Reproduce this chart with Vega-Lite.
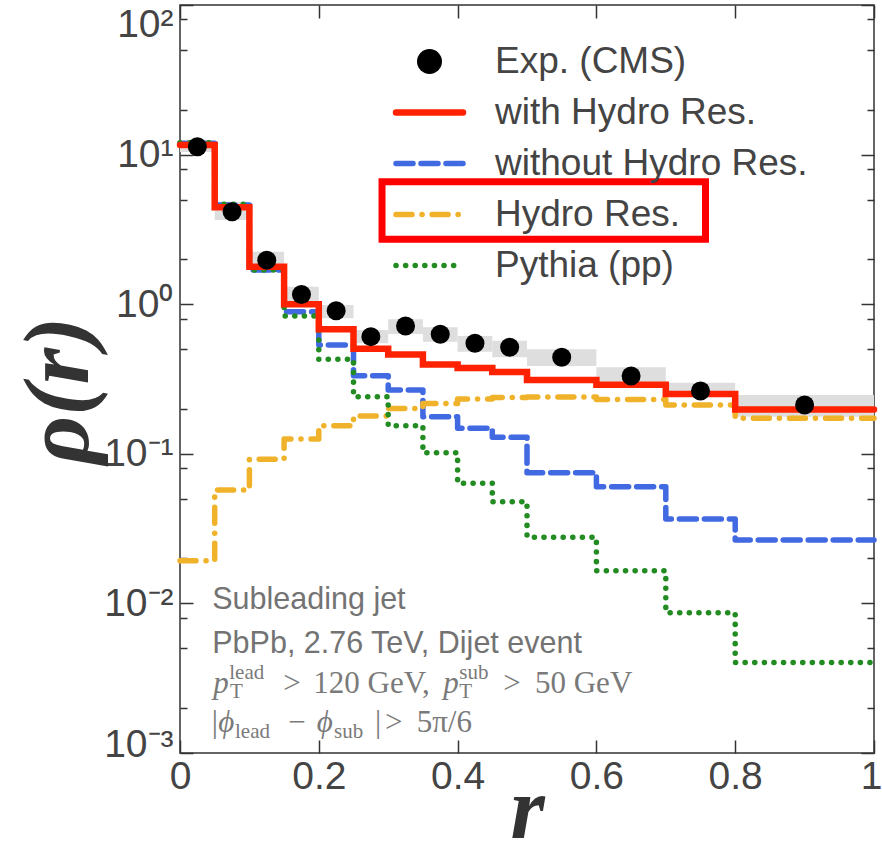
{
  "$schema": "https://vega.github.io/schema/vega-lite/v6.json",
  "width": 694,
  "height": 748,
  "autosize": {"type": "none"},
  "padding": {"left": 180, "top": 5, "right": 8, "bottom": 97},
  "background": "white",
  "config": {
    "view": {"stroke": "#333333", "strokeWidth": 1.5},
    "axis": {"grid": false, "domain": false, "tickColor": "#333333", "tickWidth": 1.5, "labelFlush": false}
  },
  "datasets": {
    "cms": [
      {"series": "Exp. (CMS)", "r": 0.025, "rlo": 0.0, "rhi": 0.05, "rho": 11.3, "lo": 10.4, "hi": 12.0},
      {"series": "Exp. (CMS)", "r": 0.075, "rlo": 0.05, "rhi": 0.1, "rho": 4.15, "lo": 3.65, "hi": 4.84},
      {"series": "Exp. (CMS)", "r": 0.125, "rlo": 0.1, "rhi": 0.15, "rho": 1.97, "lo": 1.78, "hi": 2.24},
      {"series": "Exp. (CMS)", "r": 0.175, "rlo": 0.15, "rhi": 0.2, "rho": 1.16, "lo": 1.02, "hi": 1.31},
      {"series": "Exp. (CMS)", "r": 0.225, "rlo": 0.2, "rhi": 0.25, "rho": 0.905, "lo": 0.805, "hi": 0.988},
      {"series": "Exp. (CMS)", "r": 0.275, "rlo": 0.25, "rhi": 0.3, "rho": 0.607, "lo": 0.548, "hi": 0.673},
      {"series": "Exp. (CMS)", "r": 0.325, "rlo": 0.3, "rhi": 0.35, "rho": 0.715, "lo": 0.632, "hi": 0.793},
      {"series": "Exp. (CMS)", "r": 0.375, "rlo": 0.35, "rhi": 0.4, "rho": 0.63, "lo": 0.561, "hi": 0.701},
      {"series": "Exp. (CMS)", "r": 0.425, "rlo": 0.4, "rhi": 0.45, "rho": 0.548, "lo": 0.481, "hi": 0.613},
      {"series": "Exp. (CMS)", "r": 0.475, "rlo": 0.45, "rhi": 0.5, "rho": 0.515, "lo": 0.442, "hi": 0.57},
      {"series": "Exp. (CMS)", "r": 0.55, "rlo": 0.5, "rhi": 0.6, "rho": 0.442, "lo": 0.386, "hi": 0.5},
      {"series": "Exp. (CMS)", "r": 0.65, "rlo": 0.6, "rhi": 0.7, "rho": 0.331, "lo": 0.299, "hi": 0.379},
      {"series": "Exp. (CMS)", "r": 0.75, "rlo": 0.7, "rhi": 0.8, "rho": 0.263, "lo": 0.241, "hi": 0.299},
      {"series": "Exp. (CMS)", "r": 0.9, "rlo": 0.8, "rhi": 1.0, "rho": 0.212, "lo": 0.177, "hi": 0.247}
    ],
    "curves": [
      {"series": "with Hydro Res.", "r": 0, "rho": 11.6},
      {"series": "with Hydro Res.", "r": 0.05, "rho": 4.44},
      {"series": "with Hydro Res.", "r": 0.1, "rho": 1.78},
      {"series": "with Hydro Res.", "r": 0.15, "rho": 1.0},
      {"series": "with Hydro Res.", "r": 0.2, "rho": 0.68},
      {"series": "with Hydro Res.", "r": 0.25, "rho": 0.504},
      {"series": "with Hydro Res.", "r": 0.3, "rho": 0.461},
      {"series": "with Hydro Res.", "r": 0.35, "rho": 0.395},
      {"series": "with Hydro Res.", "r": 0.4, "rho": 0.375},
      {"series": "with Hydro Res.", "r": 0.45, "rho": 0.352},
      {"series": "with Hydro Res.", "r": 0.5, "rho": 0.311},
      {"series": "with Hydro Res.", "r": 0.6, "rho": 0.29},
      {"series": "with Hydro Res.", "r": 0.7, "rho": 0.251},
      {"series": "with Hydro Res.", "r": 0.8, "rho": 0.198},
      {"series": "with Hydro Res.", "r": 1.0, "rho": 0.198},
      {"series": "without Hydro Res.", "r": 0, "rho": 11.9},
      {"series": "without Hydro Res.", "r": 0.05, "rho": 4.6},
      {"series": "without Hydro Res.", "r": 0.1, "rho": 1.69},
      {"series": "without Hydro Res.", "r": 0.15, "rho": 0.89},
      {"series": "without Hydro Res.", "r": 0.2, "rho": 0.534},
      {"series": "without Hydro Res.", "r": 0.25, "rho": 0.333},
      {"series": "without Hydro Res.", "r": 0.3, "rho": 0.267},
      {"series": "without Hydro Res.", "r": 0.35, "rho": 0.177},
      {"series": "without Hydro Res.", "r": 0.4, "rho": 0.148},
      {"series": "without Hydro Res.", "r": 0.45, "rho": 0.129},
      {"series": "without Hydro Res.", "r": 0.5, "rho": 0.0748},
      {"series": "without Hydro Res.", "r": 0.6, "rho": 0.0603},
      {"series": "without Hydro Res.", "r": 0.7, "rho": 0.0367},
      {"series": "without Hydro Res.", "r": 0.8, "rho": 0.0265},
      {"series": "without Hydro Res.", "r": 1.0, "rho": 0.0265},
      {"series": "Hydro Res.", "r": 0, "rho": 0.0193},
      {"series": "Hydro Res.", "r": 0.05, "rho": 0.0573},
      {"series": "Hydro Res.", "r": 0.1, "rho": 0.0918},
      {"series": "Hydro Res.", "r": 0.15, "rho": 0.1256},
      {"series": "Hydro Res.", "r": 0.2, "rho": 0.154},
      {"series": "Hydro Res.", "r": 0.25, "rho": 0.179},
      {"series": "Hydro Res.", "r": 0.3, "rho": 0.201},
      {"series": "Hydro Res.", "r": 0.35, "rho": 0.217},
      {"series": "Hydro Res.", "r": 0.4, "rho": 0.2325},
      {"series": "Hydro Res.", "r": 0.45, "rho": 0.2375},
      {"series": "Hydro Res.", "r": 0.5, "rho": 0.2395},
      {"series": "Hydro Res.", "r": 0.6, "rho": 0.2305},
      {"series": "Hydro Res.", "r": 0.7, "rho": 0.212},
      {"series": "Hydro Res.", "r": 0.8, "rho": 0.173},
      {"series": "Hydro Res.", "r": 1.0, "rho": 0.173},
      {"series": "Pythia (pp)", "r": 0, "rho": 12.0},
      {"series": "Pythia (pp)", "r": 0.05, "rho": 4.65},
      {"series": "Pythia (pp)", "r": 0.1, "rho": 1.69},
      {"series": "Pythia (pp)", "r": 0.15, "rho": 0.834},
      {"series": "Pythia (pp)", "r": 0.2, "rho": 0.428},
      {"series": "Pythia (pp)", "r": 0.25, "rho": 0.241},
      {"series": "Pythia (pp)", "r": 0.3, "rho": 0.154},
      {"series": "Pythia (pp)", "r": 0.35, "rho": 0.1017},
      {"series": "Pythia (pp)", "r": 0.4, "rho": 0.0635},
      {"series": "Pythia (pp)", "r": 0.45, "rho": 0.0478},
      {"series": "Pythia (pp)", "r": 0.5, "rho": 0.0277},
      {"series": "Pythia (pp)", "r": 0.6, "rho": 0.0165},
      {"series": "Pythia (pp)", "r": 0.7, "rho": 0.00867},
      {"series": "Pythia (pp)", "r": 0.8, "rho": 0.00403},
      {"series": "Pythia (pp)", "r": 1.0, "rho": 0.00403}
    ]
  },
  "resolve": {"axis": {"x": "independent", "y": "independent"}},
  "layer": [
    {
      "data": {"name": "cms"},
      "mark": {"type": "rect", "fill": "#dedede"},
      "encoding": {
        "x": {"field": "rlo", "type": "quantitative",
          "scale": {"domain": [0, 1], "nice": false, "zero": false},
          "axis": {"orient": "bottom", "values": [0, 0.2, 0.4, 0.6, 0.8, 1], "ticks": false, "labelFlush": false,
            "labelExpr": "datum.value == 0 ? '0' : datum.value == 1 ? '1' : format(datum.value, '.1f')",
            "labelOffset": {"expr": "datum.value == 1 ? -3 : 0"},
            "labelFont": "Liberation Sans", "labelFontSize": 39, "labelColor": "#444444", "labelPadding": 4,
            "title": "r", "titleFont": "Liberation Serif", "titleFontStyle": "italic", "titleFontWeight": "bold",
            "titleFontSize": 88, "titleColor": "#333333", "titleX": 347, "titleY": 84, "titleBaseline": "alphabetic", "titleAlign": "center"}},
        "x2": {"field": "rhi"},
        "y": {"field": "lo", "type": "quantitative",
          "scale": {"type": "log", "domain": [0.001, 100], "nice": false},
          "axis": {"orient": "left", "values": [0.001, 0.01, 0.1, 1, 10, 100], "ticks": false, "labelFlush": false,
            "labelExpr": "datum.value >= 50 ? '10²' : datum.value >= 5 ? '10¹' : datum.value >= 0.5 ? '10⁰' : datum.value >= 0.05 ? '10⁻¹' : datum.value >= 0.005 ? '10⁻²' : '10⁻³'",
            "labelFont": "Liberation Sans", "labelFontSize": 39, "labelColor": "#444444", "labelPadding": 7,
            "labelBaseline": {"expr": "datum.value >= 50 ? 'top' : 'middle'"},
            "labelOffset": {"expr": "datum.value < 0.005 ? -9 : 0"},
            "title": "ρ(r)", "titleFont": "Liberation Serif", "titleFontStyle": "italic", "titleFontWeight": "bold",
            "titleFontSize": 94, "titleColor": "#333333", "titleAngle": 270, "titleX": -121, "titleY": 385,
            "titleBaseline": "middle", "titleAlign": "center"}},
        "y2": {"field": "hi"}
      }
    },
    {
      "data": {"name": "curves"},
      "transform": [{"filter": "datum.series !== 'with Hydro Res.'"}],
      "mark": {"type": "line", "interpolate": "step-after", "strokeWidth": 5.5, "strokeCap": "round", "strokeJoin": "round"},
      "encoding": {
        "x": {"field": "r", "type": "quantitative",
          "axis": {"orient": "bottom", "values": [0, 0.2, 0.4, 0.6, 0.8, 1], "labels": false, "tickSize": -13, "title": null}},
        "y": {"field": "rho", "type": "quantitative",
          "axis": {"orient": "left", "values": [0.001, 0.01, 0.1, 1, 10, 100], "labels": false, "tickSize": -13, "title": null}},
        "color": {"field": "series", "type": "nominal",
          "scale": {"domain": ["Exp. (CMS)", "with Hydro Res.", "without Hydro Res.", "Hydro Res.", "Pythia (pp)"],
                    "range": ["#000000", "#ff2200", "#4169e1", "#f0b22a", "#228b22"]},
          "legend": {"orient": "none", "legendX": 231, "legendY": 38, "title": null,
            "labelFont": "Liberation Sans", "labelFontSize": 37, "labelColor": "#444444", "labelOffset": 47, "labelLimit": 500,
            "symbolType": "stroke", "symbolSize": 4489, "symbolStrokeWidth": 5.5, "rowPadding": 13, "padding": 0,
            "encode": {"symbols": {"update": {
              "shape": {"signal": "datum.value === 'Exp. (CMS)' ? 'circle' : 'stroke'"},
              "size": {"signal": "datum.value === 'Exp. (CMS)' ? 625 : 4489"},
              "fill": {"signal": "datum.value === 'Exp. (CMS)' ? '#000000' : 'transparent'"},
              "strokeWidth": {"signal": "datum.value === 'Exp. (CMS)' ? 0 : datum.value === 'with Hydro Res.' ? 6.5 : 5.5"},
              "strokeCap": {"value": "round"}
            }}}}},
        "strokeDash": {"field": "series", "type": "nominal",
          "scale": {"domain": ["Exp. (CMS)", "with Hydro Res.", "without Hydro Res.", "Hydro Res.", "Pythia (pp)"],
                    "range": [[1, 0], [1, 0], [17, 8], [16, 10, 0.1, 10], [0.1, 9.5]]}}
      }
    },
    {
      "data": {"name": "curves"},
      "transform": [{"filter": "datum.series === 'with Hydro Res.'"}],
      "mark": {"type": "line", "interpolate": "step-after", "strokeWidth": 6.5, "strokeCap": "round", "strokeJoin": "miter"},
      "encoding": {
        "x": {"field": "r", "type": "quantitative",
          "axis": {"orient": "top", "values": [0, 0.2, 0.4, 0.6, 0.8, 1], "labels": false, "tickSize": -13, "title": null}},
        "y": {"field": "rho", "type": "quantitative",
          "axis": {"orient": "right", "values": [0.001, 0.01, 0.1, 1, 10, 100], "labels": false, "tickSize": -13, "title": null}},
        "color": {"field": "series", "type": "nominal"},
        "strokeDash": {"field": "series", "type": "nominal"}
      }
    },
    {
      "data": {"name": "cms"},
      "mark": {"type": "point", "filled": true, "size": 361, "opacity": 1},
      "encoding": {
        "x": {"field": "r", "type": "quantitative", "axis": null},
        "y": {"field": "rho", "type": "quantitative",
          "axis": {"orient": "left", "values": [0.002, 0.005, 0.008, 0.02, 0.05, 0.08, 0.2, 0.5, 0.8, 2, 5, 8, 20, 50, 80], "labels": false, "tickSize": -7, "title": null}},
        "color": {"field": "series", "type": "nominal"}
      }
    },
    {
      "data": {"values": [{"label": "highlight"}]},
      "mark": {"type": "rect", "filled": false, "stroke": "#ff0000", "strokeWidth": 7},
      "encoding": {
        "x": {"datum": 0.2911, "type": "quantitative", "axis": null},
        "x2": {"datum": 0.7572},
        "y": {"datum": 6.59, "type": "quantitative",
          "axis": {"orient": "right", "values": [0.002, 0.005, 0.008, 0.02, 0.05, 0.08, 0.2, 0.5, 0.8, 2, 5, 8, 20, 50, 80], "labels": false, "tickSize": -7, "title": null}},
        "y2": {"datum": 2.72}
      }
    },
    {
      "data": {"values": [{"label": "Subleading jet"}]},
      "mark": {"type": "text", "align": "left", "baseline": "alphabetic", "font": "Liberation Sans", "fontSize": 30.5, "color": "#737373"},
      "encoding": {"x": {"datum": 0.0465, "type": "quantitative", "axis": null}, "y": {"datum": 0.009133, "type": "quantitative", "axis": null}, "text": {"field": "label"}}
    },
    {
      "data": {"values": [{"label": "PbPb, 2.76 TeV, Dijet event"}]},
      "mark": {"type": "text", "align": "left", "baseline": "alphabetic", "font": "Liberation Sans", "fontSize": 30.5, "color": "#737373"},
      "encoding": {"x": {"datum": 0.0465, "type": "quantitative", "axis": null}, "y": {"datum": 0.004638, "type": "quantitative", "axis": null}, "text": {"field": "label"}}
    },
    {
      "data": {"values": [{"label": "p"}]},
      "mark": {"type": "text", "align": "left", "baseline": "alphabetic", "font": "Liberation Serif", "fontStyle": "italic", "fontSize": 31, "color": "#7a7a7a"},
      "encoding": {"x": {"datum": 0.048, "type": "quantitative", "axis": null}, "y": {"datum": 0.002506, "type": "quantitative", "axis": null}, "text": {"field": "label"}}
    },
    {
      "data": {"values": [{"label": "lead"}]},
      "mark": {"type": "text", "align": "left", "baseline": "alphabetic", "font": "Liberation Serif", "fontSize": 21, "color": "#7a7a7a"},
      "encoding": {"x": {"datum": 0.071, "type": "quantitative", "axis": null}, "y": {"datum": 0.003124, "type": "quantitative", "axis": null}, "text": {"field": "label"}}
    },
    {
      "data": {"values": [{"label": "T"}]},
      "mark": {"type": "text", "align": "left", "baseline": "alphabetic", "font": "Liberation Serif", "fontSize": 21, "color": "#7a7a7a"},
      "encoding": {"x": {"datum": 0.072, "type": "quantitative", "axis": null}, "y": {"datum": 0.00232, "type": "quantitative", "axis": null}, "text": {"field": "label"}}
    },
    {
      "data": {"values": [{"label": ">"}]},
      "mark": {"type": "text", "align": "left", "baseline": "alphabetic", "font": "Liberation Serif", "fontSize": 31, "color": "#7a7a7a"},
      "encoding": {"x": {"datum": 0.1488, "type": "quantitative", "axis": null}, "y": {"datum": 0.002506, "type": "quantitative", "axis": null}, "text": {"field": "label"}}
    },
    {
      "data": {"values": [{"label": "120 GeV,"}]},
      "mark": {"type": "text", "align": "left", "baseline": "alphabetic", "font": "Liberation Serif", "fontSize": 31, "color": "#7a7a7a"},
      "encoding": {"x": {"datum": 0.1921, "type": "quantitative", "axis": null}, "y": {"datum": 0.002506, "type": "quantitative", "axis": null}, "text": {"field": "label"}}
    },
    {
      "data": {"values": [{"label": "p"}]},
      "mark": {"type": "text", "align": "left", "baseline": "alphabetic", "font": "Liberation Serif", "fontStyle": "italic", "fontSize": 31, "color": "#7a7a7a"},
      "encoding": {"x": {"datum": 0.3794, "type": "quantitative", "axis": null}, "y": {"datum": 0.002506, "type": "quantitative", "axis": null}, "text": {"field": "label"}}
    },
    {
      "data": {"values": [{"label": "sub"}]},
      "mark": {"type": "text", "align": "left", "baseline": "alphabetic", "font": "Liberation Serif", "fontSize": 21, "color": "#7a7a7a"},
      "encoding": {"x": {"datum": 0.4024, "type": "quantitative", "axis": null}, "y": {"datum": 0.003124, "type": "quantitative", "axis": null}, "text": {"field": "label"}}
    },
    {
      "data": {"values": [{"label": "T"}]},
      "mark": {"type": "text", "align": "left", "baseline": "alphabetic", "font": "Liberation Serif", "fontSize": 21, "color": "#7a7a7a"},
      "encoding": {"x": {"datum": 0.4024, "type": "quantitative", "axis": null}, "y": {"datum": 0.00232, "type": "quantitative", "axis": null}, "text": {"field": "label"}}
    },
    {
      "data": {"values": [{"label": ">"}]},
      "mark": {"type": "text", "align": "left", "baseline": "alphabetic", "font": "Liberation Serif", "fontSize": 31, "color": "#7a7a7a"},
      "encoding": {"x": {"datum": 0.4659, "type": "quantitative", "axis": null}, "y": {"datum": 0.002506, "type": "quantitative", "axis": null}, "text": {"field": "label"}}
    },
    {
      "data": {"values": [{"label": "50 GeV"}]},
      "mark": {"type": "text", "align": "left", "baseline": "alphabetic", "font": "Liberation Serif", "fontSize": 31, "color": "#7a7a7a"},
      "encoding": {"x": {"datum": 0.5115, "type": "quantitative", "axis": null}, "y": {"datum": 0.002506, "type": "quantitative", "axis": null}, "text": {"field": "label"}}
    },
    {
      "data": {"values": [{"label": "|"}]},
      "mark": {"type": "text", "align": "left", "baseline": "alphabetic", "font": "Liberation Serif", "fontSize": 31, "color": "#7a7a7a"},
      "encoding": {"x": {"datum": 0.0457, "type": "quantitative", "axis": null}, "y": {"datum": 0.001388, "type": "quantitative", "axis": null}, "text": {"field": "label"}}
    },
    {
      "data": {"values": [{"label": "ϕ"}]},
      "mark": {"type": "text", "align": "left", "baseline": "alphabetic", "font": "Liberation Serif", "fontStyle": "italic", "fontSize": 31, "color": "#7a7a7a"},
      "encoding": {"x": {"datum": 0.0552, "type": "quantitative", "axis": null}, "y": {"datum": 0.001388, "type": "quantitative", "axis": null}, "text": {"field": "label"}}
    },
    {
      "data": {"values": [{"label": "lead"}]},
      "mark": {"type": "text", "align": "left", "baseline": "alphabetic", "font": "Liberation Serif", "fontSize": 21, "color": "#7a7a7a"},
      "encoding": {"x": {"datum": 0.0793, "type": "quantitative", "axis": null}, "y": {"datum": 0.001265, "type": "quantitative", "axis": null}, "text": {"field": "label"}}
    },
    {
      "data": {"values": [{"label": "−"}]},
      "mark": {"type": "text", "align": "left", "baseline": "alphabetic", "font": "Liberation Serif", "fontSize": 31, "color": "#7a7a7a"},
      "encoding": {"x": {"datum": 0.156, "type": "quantitative", "axis": null}, "y": {"datum": 0.001388, "type": "quantitative", "axis": null}, "text": {"field": "label"}}
    },
    {
      "data": {"values": [{"label": "ϕ"}]},
      "mark": {"type": "text", "align": "left", "baseline": "alphabetic", "font": "Liberation Serif", "fontStyle": "italic", "fontSize": 31, "color": "#7a7a7a"},
      "encoding": {"x": {"datum": 0.197, "type": "quantitative", "axis": null}, "y": {"datum": 0.001388, "type": "quantitative", "axis": null}, "text": {"field": "label"}}
    },
    {
      "data": {"values": [{"label": "sub"}]},
      "mark": {"type": "text", "align": "left", "baseline": "alphabetic", "font": "Liberation Serif", "fontSize": 21, "color": "#7a7a7a"},
      "encoding": {"x": {"datum": 0.2219, "type": "quantitative", "axis": null}, "y": {"datum": 0.001265, "type": "quantitative", "axis": null}, "text": {"field": "label"}}
    },
    {
      "data": {"values": [{"label": "|"}]},
      "mark": {"type": "text", "align": "left", "baseline": "alphabetic", "font": "Liberation Serif", "fontSize": 31, "color": "#7a7a7a"},
      "encoding": {"x": {"datum": 0.281, "type": "quantitative", "axis": null}, "y": {"datum": 0.001388, "type": "quantitative", "axis": null}, "text": {"field": "label"}}
    },
    {
      "data": {"values": [{"label": ">"}]},
      "mark": {"type": "text", "align": "left", "baseline": "alphabetic", "font": "Liberation Serif", "fontSize": 31, "color": "#7a7a7a"},
      "encoding": {"x": {"datum": 0.2954, "type": "quantitative", "axis": null}, "y": {"datum": 0.001388, "type": "quantitative", "axis": null}, "text": {"field": "label"}}
    },
    {
      "data": {"values": [{"label": "5π/6"}]},
      "mark": {"type": "text", "align": "left", "baseline": "alphabetic", "font": "Liberation Serif", "fontSize": 31, "color": "#7a7a7a"},
      "encoding": {"x": {"datum": 0.3411, "type": "quantitative", "axis": null}, "y": {"datum": 0.001388, "type": "quantitative", "axis": null}, "text": {"field": "label"}}
    }
  ]
}
